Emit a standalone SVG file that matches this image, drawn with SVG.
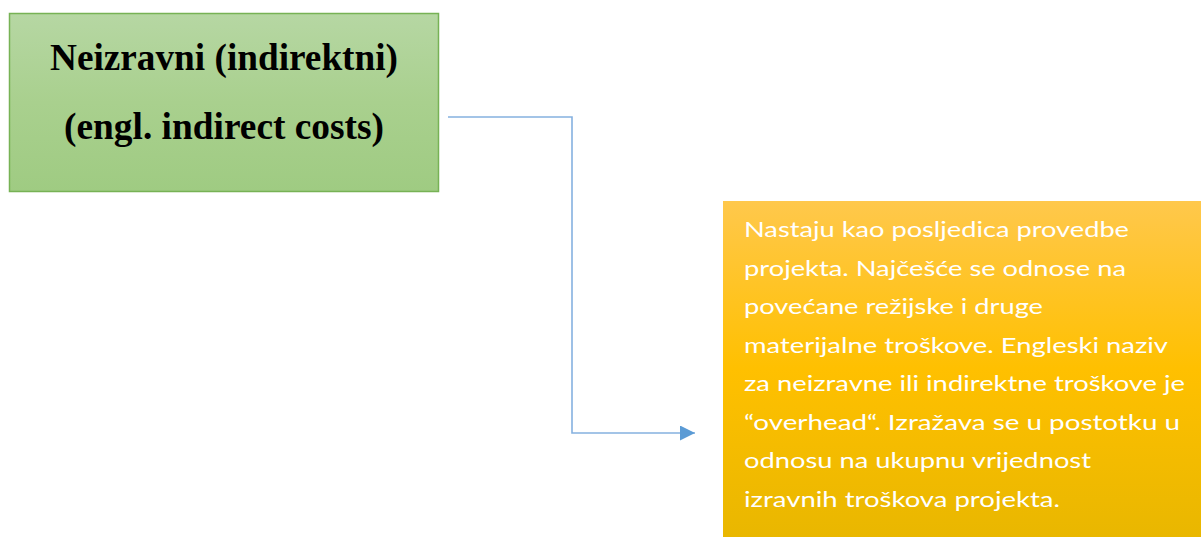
<svg xmlns="http://www.w3.org/2000/svg" width="1201" height="537" viewBox="0 0 1201 537">
<defs>
<linearGradient id="gGreen" x1="0" y1="0" x2="0" y2="1">
<stop offset="0" stop-color="#b6d7a3"/>
<stop offset="0.5" stop-color="#a9d08e"/>
<stop offset="1" stop-color="#9fcb82"/>
</linearGradient>
<linearGradient id="gGold" x1="0" y1="0" x2="0" y2="1">
<stop offset="0" stop-color="#ffc84c"/>
<stop offset="0.5" stop-color="#ffc000"/>
<stop offset="1" stop-color="#e9b700"/>
</linearGradient>
<marker id="arr" markerWidth="16" markerHeight="16" refX="15" refY="7.5" orient="auto" markerUnits="userSpaceOnUse">
<path d="M0,0 L15,7.5 L0,15 Z" fill="#5b9bd5"/>
</marker>
<style>
.title{font-family:"Liberation Serif","Times New Roman",serif;font-weight:bold;font-size:37px;fill:#000;}
.body{font-family:Lato,"Liberation Sans",sans-serif;font-size:22px;fill:#fff;}
</style>
</defs>
<g id="node-indirect">
<rect x="9.5" y="13.5" width="429" height="178" fill="url(#gGreen)" stroke="#77b255" stroke-width="1.5"/>
<text class="title" x="224" y="70" text-anchor="middle" textLength="348" lengthAdjust="spacingAndGlyphs">Neizravni (indirektni)</text>
<text class="title" x="224" y="139" text-anchor="middle" textLength="320" lengthAdjust="spacingAndGlyphs">(engl. indirect costs)</text>
</g>
<g id="connectors">
<path d="M448,117 H572 V433 H695" fill="none" stroke="#85b1e0" stroke-width="1.6" marker-end="url(#arr)"/>
</g>
<g id="node-description">
<rect x="723" y="201" width="478" height="336" fill="url(#gGold)"/>
<text class="body" x="744" y="237" textLength="385" lengthAdjust="spacingAndGlyphs">Nastaju kao posljedica provedbe</text>
<text class="body" x="744" y="276" textLength="382" lengthAdjust="spacingAndGlyphs">projekta. Najčešće se odnose na</text>
<text class="body" x="744" y="314" textLength="299" lengthAdjust="spacingAndGlyphs">povećane režijske i druge</text>
<text class="body" x="744" y="353" textLength="424" lengthAdjust="spacingAndGlyphs">materijalne troškove. Engleski naziv</text>
<text class="body" x="744" y="391" textLength="441" lengthAdjust="spacingAndGlyphs">za neizravne ili indirektne troškove je</text>
<text class="body" x="744" y="430" textLength="436" lengthAdjust="spacingAndGlyphs">“overhead“. Izražava se u postotku u</text>
<text class="body" x="744" y="468" textLength="347" lengthAdjust="spacingAndGlyphs">odnosu na ukupnu vrijednost</text>
<text class="body" x="744" y="507" textLength="316" lengthAdjust="spacingAndGlyphs">izravnih troškova projekta.</text>
</g>
</svg>
